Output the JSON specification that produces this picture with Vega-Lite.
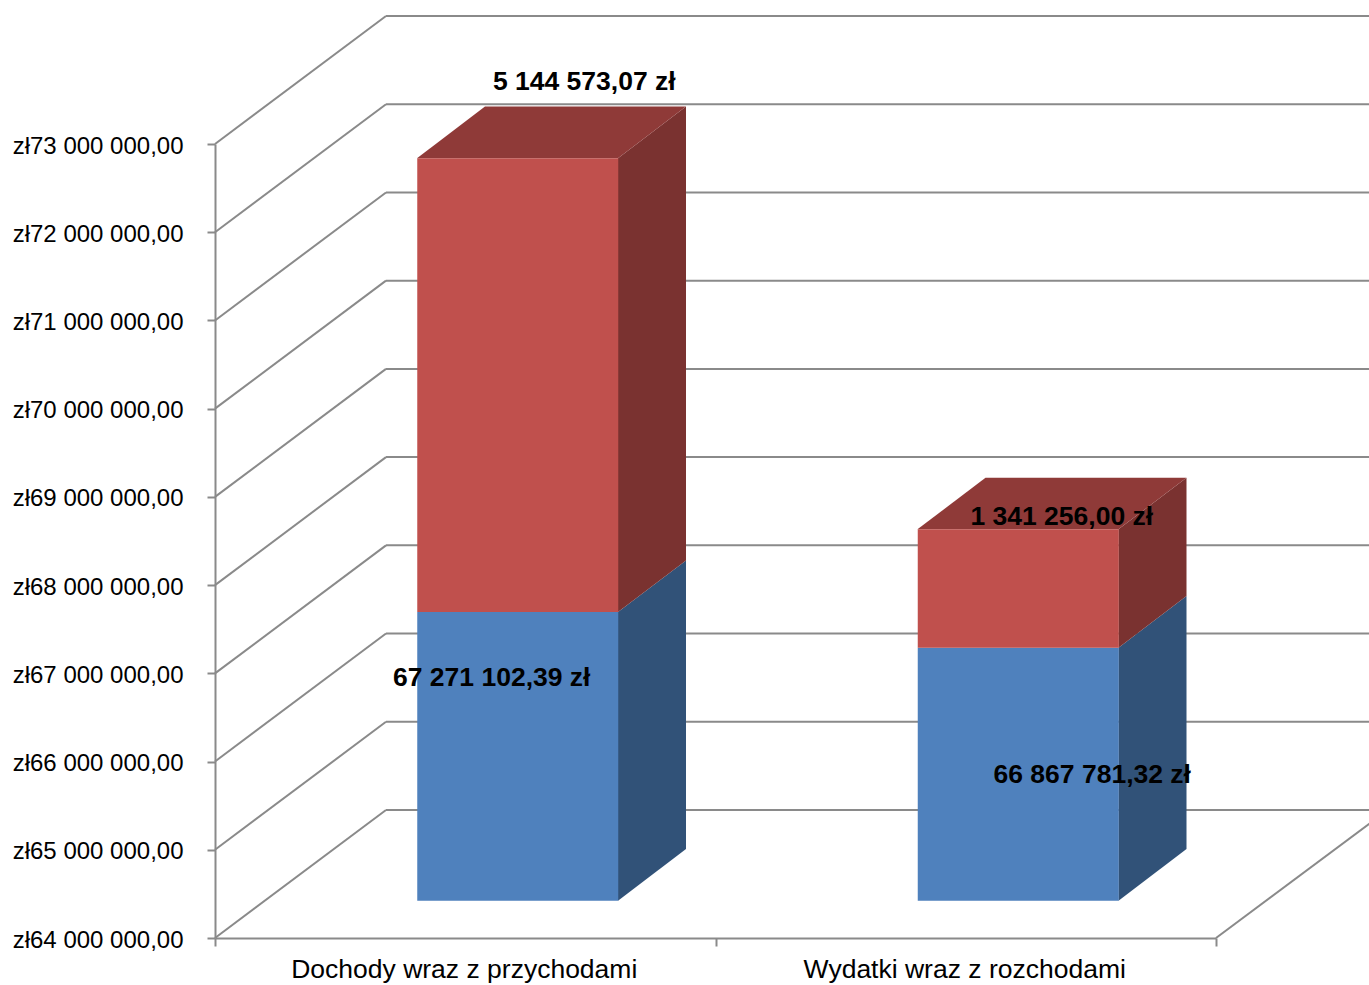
{
"$schema":"https://vega.github.io/schema/vega-lite/v6.json",
"width":1154,"height":923,
"autosize":"none",
"padding":{"left":215,"top":15,"right":0,"bottom":47},
"background":"white",
"config":{"view":{"stroke":null},"font":"Liberation Sans"},
"datasets":{
"poziomy":[{"poziom":64000000},{"poziom":65000000},{"poziom":66000000},{"poziom":67000000},{"poziom":68000000},{"poziom":69000000},{"poziom":70000000},{"poziom":71000000},{"poziom":72000000},{"poziom":73000000}],
"slupki":[
{"kategoria":"Dochody wraz z przychodami","seria":"Dochody","od":64000000,"do":67271102.39,"kwota":"67 271 102,39 zł","glebokosc":[0,1],"naroznik":[0,1,2,3]},
{"kategoria":"Dochody wraz z przychodami","seria":"Nadwyżka","od":67271102.39,"do":72415675.46,"kwota":"5 144 573,07 zł","glebokosc":[0,1],"naroznik":[0,1,2,3]},
{"kategoria":"Wydatki wraz z rozchodami","seria":"Dochody","od":64000000,"do":66867781.32,"kwota":"66 867 781,32 zł","glebokosc":[0,1],"naroznik":[0,1,2,3]},
{"kategoria":"Wydatki wraz z rozchodami","seria":"Nadwyżka","od":66867781.32,"do":68209037.32,"kwota":"1 341 256,00 zł","glebokosc":[0,1],"naroznik":[0,1,2,3]}
]},
"layer":[
{"data":{"name":"poziomy"},
 "mark":{"type":"rule","color":"#8A8A8A","strokeWidth":2,"y2Offset":-128,"x2Offset":-79.25},
 "encoding":{
  "x":{"datum":"Dochody wraz z przychodami","type":"nominal","bandPosition":0,"title":null,"scale":{"domain":["Dochody wraz z przychodami","Wydatki wraz z rozchodami"],"range":[0,1001],"paddingInner":0,"paddingOuter":0},"axis":{"tickBand":"extent","labelAngle":0,"labelLimit":600,"labelFontSize":26.5,"labelColor":"black","labelOffset":-1.5,"tickColor":"#8A8A8A","domainColor":"#8A8A8A","domainWidth":2,"tickWidth":2,"tickSize":8,"labelPadding":10}},
  "x2":{"datum":"Dochody wraz z przychodami"},
  "y":{"field":"poziom","type":"quantitative","title":null,"scale":{"domain":[64000000,73000000],"range":[923,129],"nice":false,"zero":false},"axis":{"values":[64000000,65000000,66000000,67000000,68000000,69000000,70000000,71000000,72000000,73000000],"labelExpr":"'zł' + (datum.value/1000000) + ' 000 000,00'","labelFontSize":24,"labelColor":"black","tickColor":"#8A8A8A","domainColor":"#8A8A8A","domainWidth":2,"tickWidth":2,"tickSize":8,"labelPadding":24,"labelOffset":2,"grid":false}},
  "y2":{"field":"poziom"}
 }},
{"data":{"name":"poziomy"},
 "mark":{"type":"rule","color":"#8A8A8A","strokeWidth":2,"yOffset":-128,"y2Offset":-128,"xOffset":171,"x2Offset":404},
 "encoding":{
  "x":{"datum":"Dochody wraz z przychodami","type":"nominal","bandPosition":0},
  "x2":{"datum":"Wydatki wraz z rozchodami"},
  "y":{"field":"poziom","type":"quantitative"},
  "y2":{"field":"poziom"}
 }},
{"data":{"name":"poziomy"},"transform":[{"filter":"datum.poziom == 64000000"}],
 "mark":{"type":"rule","color":"#8A8A8A","strokeWidth":2,"y2Offset":-128,"x2Offset":422},
 "encoding":{
  "x":{"datum":"Wydatki wraz z rozchodami","type":"nominal","bandPosition":1},
  "x2":{"datum":"Wydatki wraz z rozchodami"},
  "y":{"field":"poziom","type":"quantitative"},
  "y2":{"field":"poziom"}
 }},
{"data":{"name":"slupki"},"transform":[{"flatten":["glebokosc"]},{"calculate":"datum.od + 423000 + datum.glebokosc*585000","as":"od_rzut"},{"calculate":"datum.do + 423000 + datum.glebokosc*585000","as":"do_rzut"}],
 "mark":{"type":"area","orient":"vertical","interpolate":"linear"},
 "encoding":{
  "x":{"field":"kategoria","type":"nominal"},
  "xOffset":{"field":"glebokosc","type":"quantitative","scale":{"domain":[0,1],"range":[403,471]}},
  "y":{"field":"od_rzut","type":"quantitative"},
  "y2":{"field":"do_rzut"},
  "color":{"field":"seria","type":"nominal","legend":null,"scale":{"domain":["Dochody","Nadwyżka"],"range":["#315278","#7A3230"]}},
  "detail":{"field":"kategoria"}
 }},
{"data":{"name":"slupki"},"transform":[{"filter":"datum.seria == 'Nadwyżka'"},{"flatten":["naroznik"]},{"calculate":"datum.do + 423000 + (datum.naroznik >= 1 ? 585000 : 0)","as":"gora"},{"calculate":"datum.do + 423000 + (datum.naroznik == 3 ? 585000 : 0)","as":"dol"}],
 "mark":{"type":"area","orient":"vertical","interpolate":"linear","color":"#8F3A38"},
 "encoding":{
  "x":{"field":"kategoria","type":"nominal"},
  "xOffset":{"field":"naroznik","type":"quantitative","scale":{"domain":[0,1,2,3],"range":[202,270,403,471]}},
  "y":{"field":"gora","type":"quantitative"},
  "y2":{"field":"dol"},
  "detail":{"field":"kategoria"}
 }},
{"data":{"name":"slupki"},
 "mark":{"type":"bar","width":201,"xOffset":52.5,"yOffset":-37.3,"y2Offset":-37.3},
 "encoding":{
  "x":{"field":"kategoria","type":"nominal"},
  "y":{"field":"od","type":"quantitative"},
  "y2":{"field":"do"},
  "color":{"field":"seria","type":"nominal","legend":null,"scale":{"domain":["Dochody","Nadwyżka"],"range":["#4F81BD","#C0504D"]}}
 }},
{"data":{"name":"slupki"},"transform":[{"filter":"datum.kwota == '5 144 573,07 zł'"}],
 "mark":{"type":"text","font":"Liberation Sans","fontWeight":"bold","fontSize":26.5,"color":"black","dx":119,"dy":-114},
 "encoding":{"x":{"field":"kategoria","type":"nominal"},"y":{"field":"do","type":"quantitative"},"text":{"field":"kwota"}}},
{"data":{"name":"slupki"},"transform":[{"filter":"datum.kwota == '1 341 256,00 zł'"}],
 "mark":{"type":"text","font":"Liberation Sans","fontWeight":"bold","fontSize":26.5,"color":"black","dx":96,"dy":-49.6},
 "encoding":{"x":{"field":"kategoria","type":"nominal"},"y":{"field":"do","type":"quantitative"},"text":{"field":"kwota"}}},
{"data":{"name":"slupki"},"transform":[{"filter":"datum.kwota == '67 271 102,39 zł'"}],
 "mark":{"type":"text","font":"Liberation Sans","fontWeight":"bold","fontSize":26.5,"color":"black","dx":26.5,"dy":28.7},
 "encoding":{"x":{"field":"kategoria","type":"nominal"},"y":{"field":"do","type":"quantitative"},"text":{"field":"kwota"}}},
{"data":{"name":"slupki"},"transform":[{"filter":"datum.kwota == '66 867 781,32 zł'"}],
 "mark":{"type":"text","font":"Liberation Sans","fontWeight":"bold","fontSize":26.5,"color":"black","dx":126.5,"dy":90},
 "encoding":{"x":{"field":"kategoria","type":"nominal"},"y":{"field":"do","type":"quantitative"},"text":{"field":"kwota"}}}
],
"resolve":{"scale":{"color":"independent","xOffset":"independent"}}
}
